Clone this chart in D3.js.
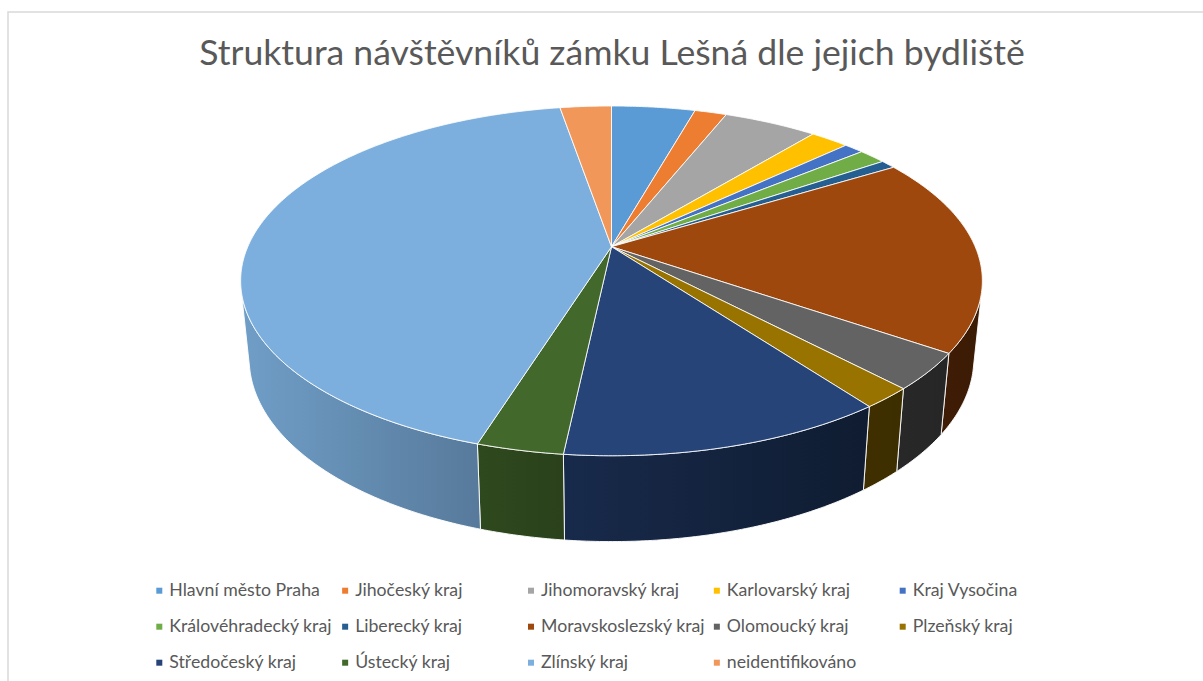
<!DOCTYPE html>
<html><head><meta charset="utf-8">
<script src="https://cdn.jsdelivr.net/npm/d3@7"></script>
<style>html,body{margin:0;padding:0;background:#fff;overflow:hidden}svg{display:block}</style>
</head><body><svg id="c" width="1203" height="681"></svg>
<script>
const titleText = "Struktura návštěvníků zámku Lešná dle jejich bydliště";
const categories = ["Hlavní město Praha","Jihočeský kraj","Jihomoravský kraj","Karlovarský kraj","Kraj Vysočina","Královéhradecký kraj","Liberecký kraj","Moravskoslezský kraj","Olomoucký kraj","Plzeňský kraj","Středočeský kraj","Ústecký kraj","Zlínský kraj","neidentifikováno"];
const values = [4.40,1.68,4.92,2.03,1.03,1.44,0.80,18.25,3.35,1.90,11.90,3.15,42.45,2.70];
const colors = ["#5b9bd5","#ed7d31","#a5a5a5","#ffc000","#4472c4","#70ad47","#255e91","#9e480e","#636363","#997300","#264478","#43682b","#7cafdd","#f1975a"];

const svg = d3.select("#c");
const W = 1203, H = 681;

// Frame
svg.append("path").attr("d", d3.line()([[8,H],[8,12],[W,12]]))
  .attr("fill","none").attr("stroke","#d9d9d9").attr("stroke-width",1.5);

// Title
svg.append("text").attr("x",612).attr("y",65).attr("text-anchor","middle")
  .attr("font-family","Lato").attr("font-size",35.6).attr("fill","#595959").text(titleText);

// Perspective projection of the pie disc
const apex = {x:611.5, y:246.7}, R = 363.7, A = 168.2, C = -0.1953;
const bottomApexY = 323, scaleX = 0.977, scaleY = 1.0457;
function topPt(a){ // a: clockwise from 12 o'clock
  const u = Math.sin(a), v = -Math.cos(a), w = 1 + C*v;
  return [apex.x + R*u/w, apex.y + A*v/w];
}
function botPt(a){
  const p = topPt(a);
  return [apex.x + scaleX*(p[0]-apex.x), bottomApexY + scaleY*(p[1]-apex.y)];
}
// The wall is visible between the two angles where rim and wall edge become tangent
function wallFaces(a){
  const p = topPt(a), q = topPt(a+1e-3), b = botPt(a);
  return (q[0]-p[0])*(b[1]-p[1]) - (q[1]-p[1])*(b[0]-p[0]) < 0;
}
let wallLo = Math.PI, wallHi = Math.PI;
while(wallFaces(wallLo-0.002)) wallLo -= 0.002;
while(wallFaces(wallHi+0.002)) wallHi += 0.002;

const pie = d3.pie().sort(null).value(d=>d);
const arcs = pie(values);
const sample = (a0,a1,f)=>{
  const n = Math.max(2,Math.ceil((a1-a0)/0.01));
  return d3.range(n+1).map(i=>f(a0+(a1-a0)*i/n));
};
const line = d3.line();

// Wall shading as a function of x
const shade = d3.scaleLinear().domain([245,480,565,860,980]).range([0.90,0.70,0.62,0.41,0.38]).clamp(true);
const darken = (c,k)=>{const q=d3.rgb(c);return d3.rgb(q.r*k,q.g*k,q.b*k).formatHex();};
const defs = svg.append("defs");

// Walls
const gW = svg.append("g");
arcs.forEach((d,i)=>{
  const lo = Math.max(d.startAngle, wallLo), hi = Math.min(d.endAngle, wallHi);
  if(hi<=lo) return;
  const t = sample(lo,hi,topPt), b = sample(lo,hi,botPt).reverse();
  const xs = t.concat(b).map(p=>p[0]);
  const x0 = d3.min(xs), x1 = d3.max(xs);
  const gid = "w"+i;
  const g = defs.append("linearGradient").attr("id",gid).attr("gradientUnits","userSpaceOnUse")
    .attr("x1",x0).attr("x2",x1).attr("y1",0).attr("y2",0);
  g.append("stop").attr("offset",0).attr("stop-color",darken(colors[i],shade(x0)));
  g.append("stop").attr("offset",1).attr("stop-color",darken(colors[i],shade(x1)));
  gW.append("path").attr("d",line(t.concat(b))+"Z").attr("fill",`url(#${gid})`)
    .attr("stroke","#fff").attr("stroke-width",0.9).attr("stroke-linejoin","round");
});

// Top faces
const gT = svg.append("g");
arcs.forEach((d,i)=>{
  const pts = [[apex.x,apex.y]].concat(sample(d.startAngle,d.endAngle,topPt));
  gT.append("path").attr("d",line(pts)+"Z").attr("fill",colors[i])
    .attr("stroke","#fff").attr("stroke-opacity",0.85).attr("stroke-width",1).attr("stroke-linejoin","round");
});

// Legend
const nCols = 5, nRows = 3;
const colX = d3.scaleLinear().domain([0,nCols-1]).range([159.3,902.7]);
const rowY = d3.scaleLinear().domain([0,nRows-1]).range([590.7,662.7]);
const gL = svg.append("g");
categories.forEach((c,i)=>{
  const x = colX(i%nCols), y = rowY(Math.floor(i/nCols));
  gL.append("rect").attr("x",x-3).attr("y",y-3).attr("width",6).attr("height",6).attr("fill",colors[i]);
  gL.append("text").attr("x",x+10).attr("y",y+5.3).attr("font-family","Lato").attr("font-size",17.7)
    .attr("fill","#595959").text(c);
});
</script></body></html>
